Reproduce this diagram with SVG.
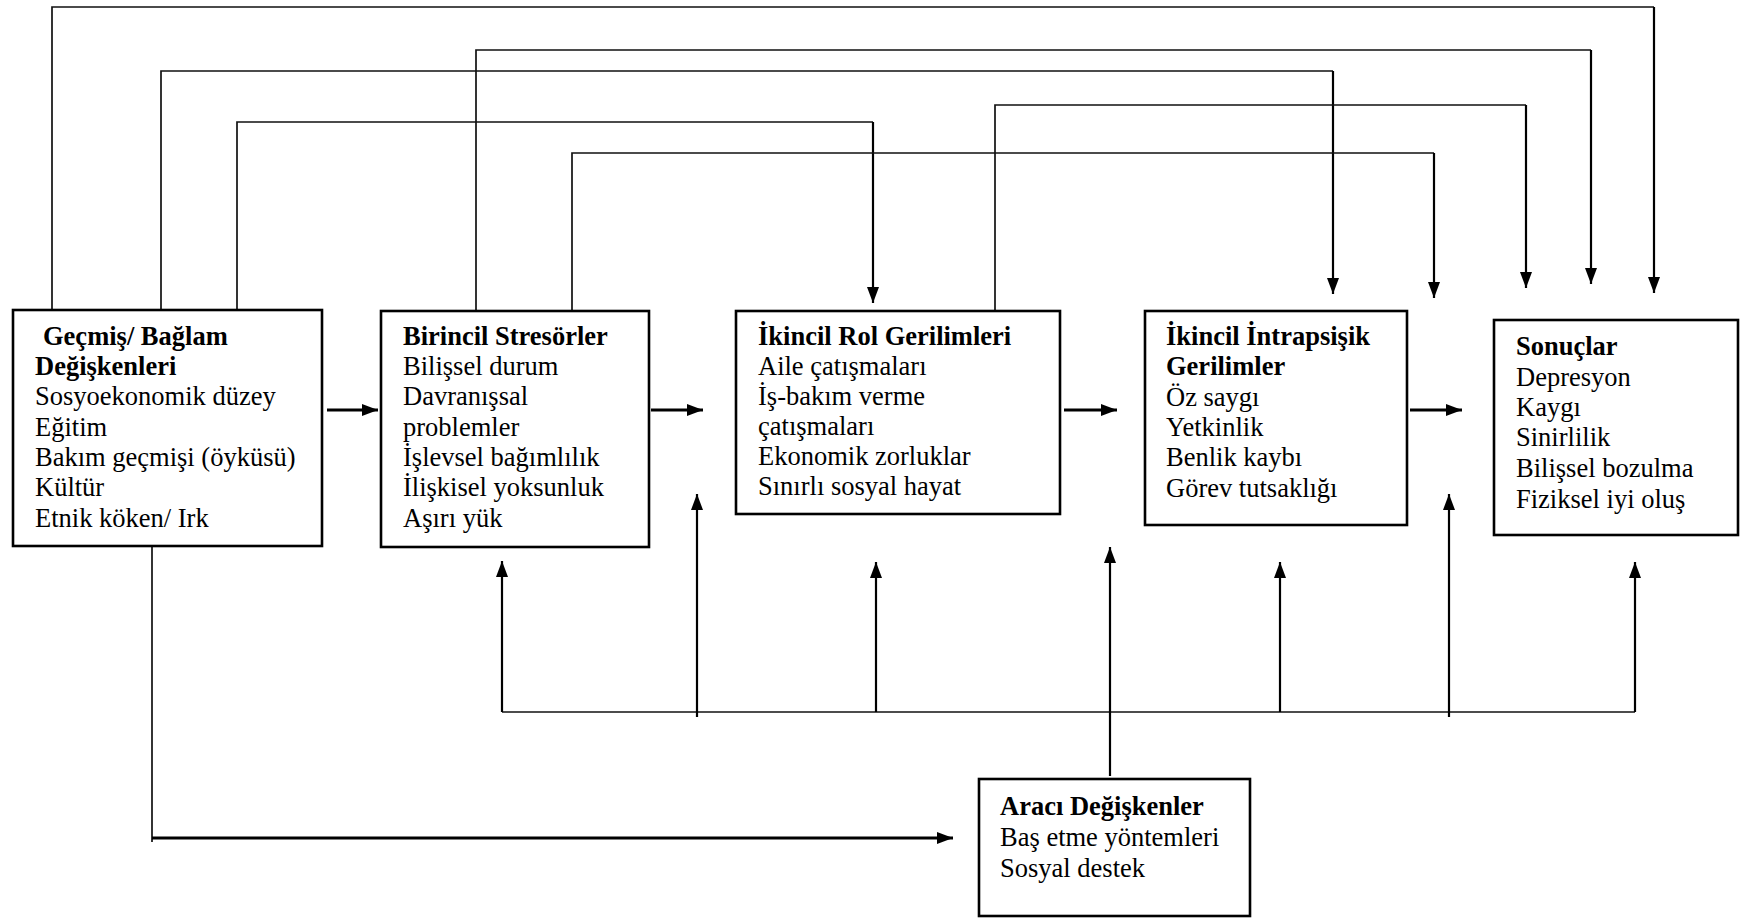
<svg xmlns="http://www.w3.org/2000/svg" width="1740" height="918" viewBox="0 0 1740 918">
<style>
.box{fill:#fff;stroke:#000;stroke-width:2.6}
.t{font-family:"Liberation Serif","Times New Roman",serif;font-size:26.5px;fill:#000}
.b{font-weight:bold}
.thin{fill:none;stroke:#111;stroke-width:1.7}
.arr{fill:none;stroke:#000;stroke-width:2.2}
.thick{fill:none;stroke:#000;stroke-width:2.8}
</style>
<defs>
<marker id="ah" markerUnits="userSpaceOnUse" viewBox="0 0 16 12" refX="16" refY="6" markerWidth="16" markerHeight="12" orient="auto">
<path d="M0,0 L16,6 L0,12 z" fill="#000"/>
</marker>
</defs>
<g id="connectors">
<path class="thin" d="M52,310 V7 H1654"/>
<path class="arr" d="M1654,7 V293" marker-end="url(#ah)"/>
<path class="thin" d="M476,311 V50 H1591"/>
<path class="arr" d="M1591,50 V284" marker-end="url(#ah)"/>
<path class="thin" d="M161,310 V71 H1333"/>
<path class="arr" d="M1333,71 V294" marker-end="url(#ah)"/>
<path class="thin" d="M237,311 V122 H873"/>
<path class="arr" d="M873,122 V303" marker-end="url(#ah)"/>
<path class="thin" d="M995,311 V105 H1526"/>
<path class="arr" d="M1526,105 V288" marker-end="url(#ah)"/>
<path class="thin" d="M572,311 V153 H1434"/>
<path class="arr" d="M1434,153 V298" marker-end="url(#ah)"/>
<path class="thick" d="M327,410 H378" marker-end="url(#ah)"/>
<path class="thick" d="M651,410 H703" marker-end="url(#ah)"/>
<path class="thick" d="M1064,410 H1117" marker-end="url(#ah)"/>
<path class="thick" d="M1410,410 H1462" marker-end="url(#ah)"/>
<path class="thin" d="M502,712 H1635"/>
<path class="arr" d="M502,712 V561" marker-end="url(#ah)"/>
<path class="arr" d="M876,712 V562" marker-end="url(#ah)"/>
<path class="arr" d="M1280,712 V562" marker-end="url(#ah)"/>
<path class="arr" d="M1635,712 V562" marker-end="url(#ah)"/>
<path class="arr" d="M697,717 V494" marker-end="url(#ah)"/>
<path class="arr" d="M1449,717 V494" marker-end="url(#ah)"/>
<path class="arr" d="M1110,776 V547" marker-end="url(#ah)"/>
<path class="thin" d="M152,547 V842"/>
<path class="thick" d="M152,838 H953" marker-end="url(#ah)"/>
</g>
<g id="node-gecmis">
<rect class="box" x="13" y="310" width="309" height="236"/>
<text class="t b" x="43" y="345">Geçmiş/ Bağlam</text>
<text class="t b" x="35" y="375">Değişkenleri</text>
<text class="t" x="35" y="405">Sosyoekonomik düzey</text>
<text class="t" x="35" y="436">Eğitim</text>
<text class="t" x="35" y="466">Bakım geçmişi (öyküsü)</text>
<text class="t" x="35" y="496">Kültür</text>
<text class="t" x="35" y="527">Etnik köken/ Irk</text>
</g>
<g id="node-birincil">
<rect class="box" x="381" y="311" width="268" height="236"/>
<text class="t b" x="403" y="345">Birincil Stresörler</text>
<text class="t" x="403" y="375">Bilişsel durum</text>
<text class="t" x="403" y="405">Davranışsal</text>
<text class="t" x="403" y="436">problemler</text>
<text class="t" x="403" y="466">İşlevsel bağımlılık</text>
<text class="t" x="403" y="496">İlişkisel yoksunluk</text>
<text class="t" x="403" y="527">Aşırı yük</text>
</g>
<g id="node-rol">
<rect class="box" x="736" y="311" width="324" height="203"/>
<text class="t b" x="758" y="345">İkincil Rol Gerilimleri</text>
<text class="t" x="758" y="375">Aile çatışmaları</text>
<text class="t" x="758" y="405">İş-bakım verme</text>
<text class="t" x="758" y="435">çatışmaları</text>
<text class="t" x="758" y="465">Ekonomik zorluklar</text>
<text class="t" x="758" y="495">Sınırlı sosyal hayat</text>
</g>
<g id="node-intrapsisik">
<rect class="box" x="1145" y="311" width="262" height="214"/>
<text class="t b" x="1166" y="345">İkincil İntrapsişik</text>
<text class="t b" x="1166" y="375">Gerilimler</text>
<text class="t" x="1166" y="406">Öz saygı</text>
<text class="t" x="1166" y="436">Yetkinlik</text>
<text class="t" x="1166" y="466">Benlik kaybı</text>
<text class="t" x="1166" y="497">Görev tutsaklığı</text>
</g>
<g id="node-sonuclar">
<rect class="box" x="1494" y="320" width="244" height="215"/>
<text class="t b" x="1516" y="355">Sonuçlar</text>
<text class="t" x="1516" y="386">Depresyon</text>
<text class="t" x="1516" y="416">Kaygı</text>
<text class="t" x="1516" y="446">Sinirlilik</text>
<text class="t" x="1516" y="477">Bilişsel bozulma</text>
<text class="t" x="1516" y="508">Fiziksel iyi oluş</text>
</g>
<g id="node-araci">
<rect class="box" x="979" y="779" width="271" height="137"/>
<text class="t b" x="1000" y="815">Aracı Değişkenler</text>
<text class="t" x="1000" y="846">Baş etme yöntemleri</text>
<text class="t" x="1000" y="877">Sosyal destek</text>
</g>
</svg>
